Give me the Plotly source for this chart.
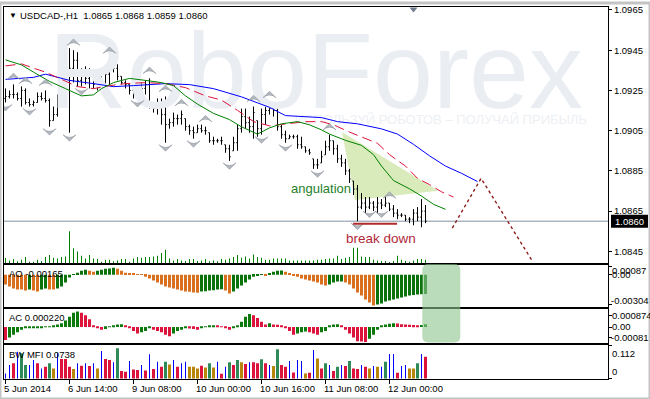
import plotly.graph_objects as go

W, H = 650, 399

# ---------------- data ----------------
symbol = "USDCAD-,H1"
time_labels = ["5 Jun 2014", "6 Jun 14:00", "9 Jun 08:00", "10 Jun 00:00",
               "10 Jun 16:00", "11 Jun 08:00", "12 Jun 00:00"]
time_label_bars = [0, 16, 32, 48, 64, 80, 96]
price_ticks = [1.0965, 1.0945, 1.0925, 1.0905, 1.0885, 1.0865, 1.0845]
current_price = 1.0860

high = [1.0926, 1.0925, 1.0928, 1.0924, 1.0927, 1.0926, 1.0921, 1.0920, 1.0924, 1.0924,
        1.0925, 1.0921, 1.0917, 1.0923, 1.0928, 1.0931, 1.0946, 1.0945, 1.0944, 1.0936,
        1.0937, 1.0936, 1.0934, 1.0932, 1.0932, 1.0935, 1.0941, 1.0939, 1.0938, 1.0932,
        1.0930, 1.0928, 1.0926, 1.0928, 1.0929, 1.0930, 1.0931, 1.0919, 1.0921, 1.0921,
        1.0922, 1.0911, 1.0914, 1.0913, 1.0915, 1.0911, 1.0908, 1.0907, 1.0908, 1.0908,
        1.0907, 1.0904, 1.0902, 1.0901, 1.0902, 1.0898, 1.0898, 1.0902, 1.0908, 1.0916,
        1.0916, 1.0912, 1.0917, 1.0910, 1.0916, 1.0917, 1.0919, 1.0919, 1.0917, 1.0908,
        1.0905, 1.0903, 1.0903, 1.0903, 1.0902, 1.0897, 1.0896, 1.0891, 1.0891, 1.0895,
        1.0900, 1.0903, 1.0900, 1.0898, 1.0893, 1.0891, 1.0886, 1.0880, 1.0878, 1.0874,
        1.0872, 1.0872, 1.0870, 1.0872, 1.0871, 1.0872, 1.0869, 1.0868, 1.0866, 1.0864,
        1.0863, 1.0862, 1.0866, 1.0867, 1.0871, 1.0868]
low = [1.0919, 1.0921, 1.0921, 1.0920, 1.0917, 1.0918, 1.0917, 1.0917, 1.0919, 1.0920,
       1.0919, 1.0907, 1.0910, 1.0912, 1.0917, 1.0920, 1.0904, 1.0929, 1.0927, 1.0927,
       1.0928, 1.0926, 1.0926, 1.0925, 1.0926, 1.0927, 1.0928, 1.0934, 1.0930, 1.0928,
       1.0926, 1.0923, 1.0921, 1.0921, 1.0922, 1.0923, 1.0916, 1.0914, 1.0913, 1.0908,
       1.0899, 1.0906, 1.0907, 1.0908, 1.0908, 1.0905, 1.0903, 1.0901, 1.0904, 1.0904,
       1.0903, 1.0899, 1.0898, 1.0899, 1.0898, 1.0894, 1.0890, 1.0895, 1.0895, 1.0904,
       1.0906, 1.0904, 1.0901, 1.0902, 1.0903, 1.0908, 1.0913, 1.0912, 1.0905, 1.0901,
       1.0899, 1.0901, 1.0901, 1.0896, 1.0896, 1.0894, 1.0893, 1.0886, 1.0886, 1.0889,
       1.0893, 1.0895, 1.0893, 1.0889, 1.0887, 1.0883, 1.0879, 1.0873, 1.0860, 1.0866,
       1.0864, 1.0866, 1.0865, 1.0864, 1.0866, 1.0867, 1.0865, 1.0862, 1.0861, 1.0862,
       1.0860, 1.0859, 1.0858, 1.0860, 1.0857, 1.0859]
close = [1.0922, 1.0923, 1.0923, 1.0921, 1.0925, 1.0919, 1.0918, 1.0919, 1.0922, 1.0921,
         1.0920, 1.0910, 1.0913, 1.0921, 1.0925, 1.0929, 1.0936, 1.0940, 1.0930, 1.0933,
         1.0931, 1.0933, 1.0928, 1.0930, 1.0928, 1.0933, 1.0936, 1.0936, 1.0932, 1.0929,
         1.0928, 1.0925, 1.0923, 1.0926, 1.0926, 1.0928, 1.0917, 1.0916, 1.0919, 1.0913,
         1.0908, 1.0909, 1.0911, 1.0911, 1.0913, 1.0907, 1.0905, 1.0904, 1.0906, 1.0905,
         1.0905, 1.0900, 1.0900, 1.0900, 1.0900, 1.0896, 1.0892, 1.0899, 1.0906, 1.0912,
         1.0909, 1.0907, 1.0914, 1.0906, 1.0913, 1.0915, 1.0916, 1.0915, 1.0907, 1.0903,
         1.0901, 1.0902, 1.0902, 1.0898, 1.0897, 1.0895, 1.0894, 1.0888, 1.0888, 1.0892,
         1.0897, 1.0900, 1.0896, 1.0891, 1.0889, 1.0885, 1.0881, 1.0876, 1.0867, 1.0869,
         1.0867, 1.0869, 1.0867, 1.0869, 1.0868, 1.0869, 1.0866, 1.0864, 1.0863, 1.0863,
         1.0861, 1.0861, 1.0864, 1.0862, 1.0865, 1.0860]
first_open = 1.0921

volume = [150, 80, 120, 50, 100, 180, 40, 40, 100, 60,
          180, 240, 160, 140, 180, 200, 960, 450, 350, 220,
          140, 240, 140, 120, 40, 100, 100, 50, 80, 120,
          120, 40, 140, 180, 160, 180, 180, 200, 220, 300,
          400, 140, 80, 120, 80, 60, 120, 120, 60, 80,
          120, 50, 80, 50, 120, 100, 140, 180, 240, 160,
          200, 140, 260, 180, 160, 100, 100, 140, 140, 140,
          140, 80, 80, 80, 80, 80, 80, 80, 100, 100,
          120, 140, 140, 220, 120, 160, 180, 460, 460, 200,
          180, 180, 100, 80, 60, 60, 20, 60, 220, 100,
          60, 40, 80, 120, 120, 100]

# Alligator-style lines (bar index, value) read at points along each line
jaw_bar = [0, 7, 10, 16, 22, 27, 32, 36, 40, 46, 52, 59, 66, 70, 74, 79, 83, 88, 94, 98,
           102, 106, 110, 114, 118]
jaw_val = [1.09305, 1.09315, 1.09331, 1.09300, 1.09284, 1.09269, 1.09274, 1.09279, 1.09284,
           1.09279, 1.09259, 1.09218, 1.09166, 1.09125, 1.09120, 1.09115, 1.09095, 1.09084,
           1.09059, 1.09033, 1.08982, 1.08925, 1.08874, 1.08838, 1.08797]
teeth_bar = [0, 4, 7, 10, 14, 18, 22, 26, 30, 35, 40, 45, 50, 54, 58, 62, 66, 70, 75, 79,
             82, 86, 90, 93, 96, 100, 103, 106, 109, 112]
teeth_val = [1.09372, 1.09382, 1.09361, 1.09341, 1.09305, 1.09269, 1.09259, 1.09274, 1.09284,
             1.09289, 1.09284, 1.09264, 1.09223, 1.09202, 1.09151, 1.09095, 1.09074, 1.09084,
             1.09095, 1.09095, 1.09079, 1.09043, 1.09013, 1.08987, 1.08931, 1.08874, 1.08813,
             1.08782, 1.08746, 1.08720]
lips_bar = [0, 4, 7, 11, 15, 19, 22, 24, 27, 31, 35, 39, 42, 45, 48, 52, 56, 59, 63, 66,
            69, 73, 76, 79, 81, 85, 89, 92, 94, 97, 101, 104, 107, 110]
lips_val = [1.09402, 1.09377, 1.09341, 1.09295, 1.09259, 1.09223, 1.09228, 1.09259, 1.09289,
            1.09310, 1.09300, 1.09289, 1.09274, 1.09223, 1.09182, 1.09136, 1.09105, 1.09069,
            1.09033, 1.09064, 1.09084, 1.09095, 1.09079, 1.09054, 1.09033, 1.09002, 1.08977,
            1.08931, 1.08874, 1.08802, 1.08761, 1.08725, 1.08684, 1.08659]

fractal_up_bars = [2, 5, 10, 17, 26, 36, 40, 44, 50, 62, 66, 81, 96]
fractal_down_bars = [0, 6, 11, 16, 19, 33, 40, 47, 56, 64, 70, 78, 88, 91, 94]

ao = [-0.0010, -0.0012, -0.0014, -0.0015, -0.0015, -0.0016, -0.0015, -0.0016, -0.0017, -0.0015,
      -0.0014, -0.0015, -0.0015, -0.0014, -0.0012, -0.0008, -0.0003, 0.00005, 0.0002, 0.0004,
      0.0005, 0.0004, 0.0003, 0.0004, 0.0005, 0.0006, 0.00062, 0.0007, 0.0006, 0.0004,
      0.0002, 0.0001, 0.00008, 0.00005, 0.00002, -0.0002, -0.0004, -0.0006, -0.0008, -0.0010,
      -0.0012, -0.0013, -0.0014, -0.0015, -0.0016, -0.0017, -0.00172, -0.0018, -0.00182, -0.0017,
      -0.00168, -0.0016, -0.00158, -0.0015, -0.00148, -0.0016, -0.0019, -0.0017, -0.0014, -0.0011,
      -0.0008, -0.0005, -0.0002, -0.0001, 0.00002, -0.0001, 0.0001, 0.0003, 0.0004, 0.00042,
      0.0003, 0.0001, -0.0001, -0.0002, -0.0004, -0.0005, -0.0006, -0.0007, -0.0008, -0.0010,
      -0.0011, -0.0010, -0.0008, -0.0007, -0.00068, -0.0008, -0.0010, -0.0014, -0.0018, -0.0021,
      -0.0025, -0.0028, -0.0031, -0.0030, -0.0029, -0.0027, -0.0026, -0.0025, -0.0024, -0.0023,
      -0.0022, -0.0021, -0.00205, -0.0020, -0.00198, -0.00195]

ac = [-0.0010, -0.0008, -0.0006, -0.0004, -0.0002, -0.0001, -0.00005, -0.00004, -0.00003, -0.00002,
      0.00002, 0.00003, 0.0001, 0.0002, 0.0003, 0.0005, 0.0008, 0.0011, 0.0012, 0.0011,
      0.0009, 0.0006, 0.0001, -0.0001, -0.0002, -0.00015, 0.00002, 0.0001, 0.0002, 0.00022,
      0.0001, -0.0001, -0.0003, -0.0005, -0.0004, -0.0003, -0.0001, -0.0002, -0.0003, -0.0004,
      -0.0006, -0.0007, -0.0005, -0.0003, -0.0002, -0.0001, -0.00012, -0.00015, -0.0002, -0.00005,
      0.00003, 0.0001, 0.00012, 0.0001, 0.00002, -0.0001, -0.0002, -0.0001, 0.0001, 0.0004,
      0.0008, 0.0010, 0.0009, 0.0007, 0.0004, 0.0002, 0.0003, 0.0002, 0.00018, 0.0001,
      -0.0001, -0.0003, -0.0006, -0.0005, -0.0004, -0.00035, -0.0004, -0.0005, -0.0006, -0.0004,
      -0.0003, 0.0001, 0.0002, 0.00022, 0.0001, -0.0002, -0.0005, -0.0008, -0.0011, -0.00112,
      -0.00115, -0.0009, -0.0006, -0.0002, 0.0001, 0.0002, 0.00025, 0.0003, 0.00028, 0.00022,
      0.0002, 0.00018, 0.00015, 0.00014, 0.00016, 0.00022]

mfi = [0.017, 0.0454, 0.0511, 0.0908, 0.0851, 0.0454, 0.0454, 0.0624, 0.0511, 0.034,
       0.0397, 0.0511, 0.034, 0.0851, 0.0658, 0.0658, 0.0397, 0.0318, 0.0511, 0.0431,
       0.0511, 0.042, 0.0511, 0.034, 0.093, 0.0658, 0.0624, 0.0545, 0.1022, 0.025,
       0.0227, 0.059, 0.0306, 0.0284, 0.0454, 0.0272, 0.0817, 0.0318, 0.0568, 0.0397,
       0.0568, 0.0477, 0.0624, 0.0397, 0.0511, 0.0568, 0.0397, 0.0397, 0.034, 0.0431,
       0.0375, 0.0511, 0.0375, 0.0568, 0.0159, 0.0397, 0.0545, 0.0454, 0.0624, 0.0545,
       0.0488, 0.0545, 0.0545, 0.0511, 0.0647, 0.0511, 0.0454, 0.042, 0.0987, 0.0454,
       0.0397, 0.059, 0.0204, 0.0624, 0.059, 0.017, 0.0193, 0.0965, 0.068, 0.034,
       0.0511, 0.0454, 0.025, 0.0397, 0.0454, 0.042, 0.059, 0.034, 0.0318, 0.0454,
       0.0397, 0.034, 0.042, 0.0397, 0.0397, 0.0568, 0.0829, 0.0829, 0.0193, 0.042,
       0.0454, 0.034, 0.034, 0.0511, 0.0829, 0.0738]
# G = green, F = fade, K = fake, S = squat
mfi_zone = list("KKSKGGKKSK" "SGFKSSSFKS" "KSKFKSSKGS" "SKSSKSKSKS" "GFKSKKFFFS"
                "FGFKSKGSGF" "SKSSGSKFGS" "SKSKKFSKFS" "GKSGKSGSSK" "SFKFKGKKSK" "KFFGKS")

# ---------------- helpers ----------------
def px(xp):
    return xp / W

def py(yp):
    return 1 - yp / H

n = len(close)
bars = list(range(n))
open_ = []
prev = first_open
for i in range(n):
    o = min(max(prev, low[i]), high[i])
    open_.append(o)
    prev = close[i]

XR = [-0.375, 150.625]          # bar 0 at pixel 5.5, 4 px per bar
PRICE_PER_PX = 1 / 19500.0

fig = go.Figure()

# watermark (drawn first so it stays under the bars)
fig.add_trace(go.Scatter(x=[77.6], y=[1.09297], mode="text", text=["RoboForex"],
                         textposition="middle center", cliponaxis=False,
                         textfont=dict(family="Liberation Sans, Arial", size=108, color="#eaeef3"),
                         xaxis="x", yaxis="y", hoverinfo="skip"))
fig.add_trace(go.Scatter(x=[145.4], y=[1.09100], mode="text",
                         text=["ИСПОЛЬЗУЙ РОБОТОВ – ПОЛУЧАЙ ПРИБЫЛЬ"],
                         textposition="middle left",
                         textfont=dict(family="Liberation Sans, Arial", size=13, color="#edf0f4"),
                         xaxis="x", yaxis="y", hoverinfo="skip"))

# price bars
fig.add_trace(go.Ohlc(x=bars, open=open_, high=high, low=low, close=close,
                      increasing=dict(line=dict(color="black", width=1)),
                      decreasing=dict(line=dict(color="black", width=1)),
                      tickwidth=0.3, xaxis="x", yaxis="y", hoverinfo="skip"))

# alligator-like lines
fig.add_trace(go.Scatter(x=jaw_bar, y=jaw_val, mode="lines",
                         line=dict(color="#0000ff", width=1), xaxis="x", yaxis="y"))
fig.add_trace(go.Scatter(x=teeth_bar, y=teeth_val, mode="lines",
                         line=dict(color="#dc143c", width=1, dash="10px,5px"), xaxis="x", yaxis="y"))
fig.add_trace(go.Scatter(x=lips_bar, y=lips_val, mode="lines",
                         line=dict(color="#008000", width=1), xaxis="x", yaxis="y"))

# fractals
fr_marker = dict(symbol="arrow-wide", size=9, color="#b4b9c0", line=dict(color="#8a919b", width=0.6))
fig.add_trace(go.Scatter(x=fractal_up_bars, y=[high[i] + 0.00056 for i in fractal_up_bars],
                         mode="markers", marker=dict(fr_marker, angle=0), xaxis="x", yaxis="y"))
fig.add_trace(go.Scatter(x=fractal_down_bars, y=[low[i] - 0.00042 for i in fractal_down_bars],
                         mode="markers", marker=dict(fr_marker, angle=180), xaxis="x", yaxis="y"))

# tick volume in the main window
fig.add_trace(go.Bar(x=bars, y=volume, width=0.25, marker=dict(color="#008000", line=dict(width=0)),
                     xaxis="x", yaxis="y5"))

# AO
ao_col = []
for i, v in enumerate(ao):
    if i == 0:
        ao_col.append("#d9701f")
    elif v > ao[i - 1]:
        ao_col.append("#0b730b")
    elif v < ao[i - 1]:
        ao_col.append("#d9701f")
    else:
        ao_col.append(ao_col[-1])
fig.add_trace(go.Bar(x=bars, y=ao, width=0.75, marker=dict(color=ao_col, line=dict(width=0)),
                     xaxis="x2", yaxis="y2"))

# AC
ac_col = []
for i, v in enumerate(ac):
    if i == 0:
        ac_col.append("#dc143c")
    elif v > ac[i - 1]:
        ac_col.append("#0b7a0b")
    elif v < ac[i - 1]:
        ac_col.append("#dc143c")
    else:
        ac_col.append(ac_col[-1])
fig.add_trace(go.Bar(x=bars, y=ac, width=0.75, marker=dict(color=ac_col, line=dict(width=0)),
                     xaxis="x3", yaxis="y3"))

# BW MFI
zone_color = {"G": "#2e8b57", "F": "#b8860b", "K": "#0000ff", "S": "#dc143c"}
zone_width = {"G": 0.75, "F": 0.75, "K": 0.25, "S": 0.75}
fig.add_trace(go.Bar(x=bars, y=mfi, width=[zone_width[z] for z in mfi_zone],
                     marker=dict(color=[zone_color[z] for z in mfi_zone], line=dict(width=0)),
                     xaxis="x4", yaxis="y4"))

# ---------------- axes ----------------
frame = dict(showgrid=False, zeroline=False, showline=True, linecolor="black", linewidth=1,
             mirror=True, fixedrange=True)
xdom = [px(4), px(608)]
layout = dict(
    width=W, height=H, margin=dict(l=0, r=0, t=0, b=0), autosize=False,
    paper_bgcolor="white", plot_bgcolor="white", showlegend=False, barmode="overlay",
    hovermode=False,
    font=dict(family="Liberation Sans, Arial, sans-serif", size=9.5, color="black"),
    xaxis=dict(frame, domain=xdom, range=XR, anchor="y", showticklabels=False, ticks="",
               rangeslider=dict(visible=False)),
    xaxis2=dict(frame, domain=xdom, range=XR, anchor="y2", showticklabels=False, ticks=""),
    xaxis3=dict(frame, domain=xdom, range=XR, anchor="y3", showticklabels=False, ticks=""),
    xaxis4=dict(frame, domain=xdom, range=XR, anchor="y4", showticklabels=False,
                ticks="outside", tickvals=time_label_bars, ticklen=4, tickcolor="black"),
    yaxis=dict(frame, domain=[py(262), py(4)], range=[1.08392, 1.09665], anchor="x",
               side="right", tickvals=price_ticks, ticktext=[f"{p:.4f}" for p in price_ticks],
               ticks="outside", ticklen=3, tickcolor="black", tickfont=dict(size=9.5)),
    yaxis5=dict(overlaying="y", anchor="x", range=[0, 7731], visible=False, fixedrange=True),
    yaxis2=dict(frame, domain=[py(306.5), py(264)], range=[-0.00328, 0.00097], anchor="x2",
                side="right", tickvals=[0.00087, 0, -0.00304], showticklabels=False,
                ticks="outside", ticklen=3, tickcolor="black"),
    yaxis3=dict(frame, domain=[py(343), py(308.5)], range=[-0.00126, 0.001374], anchor="x3",
                side="right", tickvals=[0.000874, 0, -0.00081], showticklabels=False,
                ticks="outside", ticklen=3, tickcolor="black"),
    yaxis4=dict(frame, domain=[py(379.3), py(344.5)], range=[-0.0034, 0.1137], anchor="x4",
                side="right", tickvals=[0.112, 0], showticklabels=False,
                ticks="outside", ticklen=3, tickcolor="black"),
)
fig.update_layout(**layout)

# ---------------- shapes ----------------
shapes = []
# current price line
shapes.append(dict(type="line", xref="x", yref="y", x0=XR[0], x1=XR[1], y0=current_price,
                   y1=current_price, line=dict(color="#8393a3", width=1), layer="below"))
# angulation triangle
shapes.append(dict(type="path", xref="x", yref="y", layer="below",
                   path="M 84.1,1.09043 L 108.2,1.08751 L 87.4,1.08705 Z",
                   fillcolor="rgba(196,224,150,0.65)", line=dict(width=0)))
# break-down line
shapes.append(dict(type="line", xref="x", yref="y", x0=86.9, x1=97.9, y0=1.08587, y1=1.08587,
                   line=dict(color="#b02a2a", width=2)))
# forecast path
shapes.append(dict(type="path", xref="x", yref="y",
                   path="M 111.7,1.08566 L 118.9,1.08813 L 131.7,1.08402",
                   line=dict(color="#8b1a1a", width=1.4, dash="3px,3px")))
# rounded green box over AO / AC
x0, x1 = 104.2, 113.7
y0, y1 = py(342), py(263)
rx, ry = 1.5, 6 / H
shapes.append(dict(type="path", xref="x", yref="paper", layer="above",
                   path=(f"M {x0+rx},{y1} L {x1-rx},{y1} Q {x1},{y1} {x1},{y1-ry} "
                         f"L {x1},{y0+ry} Q {x1},{y0} {x1-rx},{y0} L {x0+rx},{y0} "
                         f"Q {x0},{y0} {x0},{y0+ry} L {x0},{y1-ry} Q {x0},{y1} {x0+rx},{y1} Z"),
                   fillcolor="rgba(140,196,140,0.6)", line=dict(width=0)))
# chart-shift marker at the top
shapes.append(dict(type="path", xref="paper", yref="paper",
                   path=f"M {px(409.5)},{py(4.5)} L {px(417.5)},{py(4.5)} L {px(413.5)},{py(9.5)} Z",
                   fillcolor="#6f7c8c", line=dict(width=0)))
# current price box on the scale
shapes.append(dict(type="rect", xref="paper", yref="y", x0=px(611), x1=px(648),
                   y0=current_price - 6.3 * PRICE_PER_PX, y1=current_price + 6.3 * PRICE_PER_PX,
                   fillcolor="black", line=dict(width=0)))
# window border
shapes.append(dict(type="rect", xref="paper", yref="paper", x0=0, x1=1, y0=0, y1=1,
                   line=dict(color="#c4c4c4", width=3)))
fig.update_layout(shapes=shapes)

# ---------------- annotations ----------------
ann = []

def text(x, y, s, xref="paper", yref="paper", anchor="left", size=9.5, color="black", **kw):
    ann.append(dict(x=x, y=y, xref=xref, yref=yref, text=s, showarrow=False, xanchor=anchor,
                    yanchor="middle", borderpad=0, borderwidth=0,
                    font=dict(size=size, color=color), **kw))

title = f"{symbol}\u00a0\u00a0{open_[-1]:.4f} {high[-1]:.4f} {low[-1]:.4f} {close[-1]:.4f}"
text(px(8.5), py(13), "▼", size=8)
text(px(20), py(13), title)
text(px(9), py(272.3), "AO -0.00165")
text(px(9), py(317.3), f"AC {ac[-1]:.6f}")
text(px(9), py(354.3), f"BW MFI {mfi[-1]:.4f}")
# sub-window scales
text(px(612), py(269.5), "0.00087")
text(px(612), py(273.5), "0.00")
text(px(611), py(299.3), "-0.00304")
text(px(612), py(315.3), "0.000874")
text(px(612), py(326), "0.00")
text(px(611), py(336.7), "-0.00081")
text(px(612), py(352.7), "0.112")
text(px(612), py(371.7), "0")
# current price label
text(px(615), current_price, f"{current_price:.4f}", yref="y", color="white")
# time labels
for b, lab in zip(time_label_bars, time_labels):
    text(b, py(388.5), lab, xref="x", xshift=-2)
# chart notes
text(78.9, 1.08761, "angulation", xref="x", yref="y", anchor="center", size=13, color="#25802a")
text(93.9, 1.08515, "break down", xref="x", yref="y", anchor="center", size=13.5, color="#b02a3a")
fig.update_layout(annotations=ann)

fig.write_html("out.html", config={"displayModeBar": False},
               post_script="document.body.style.margin='0px';document.body.style.overflow='hidden';")
